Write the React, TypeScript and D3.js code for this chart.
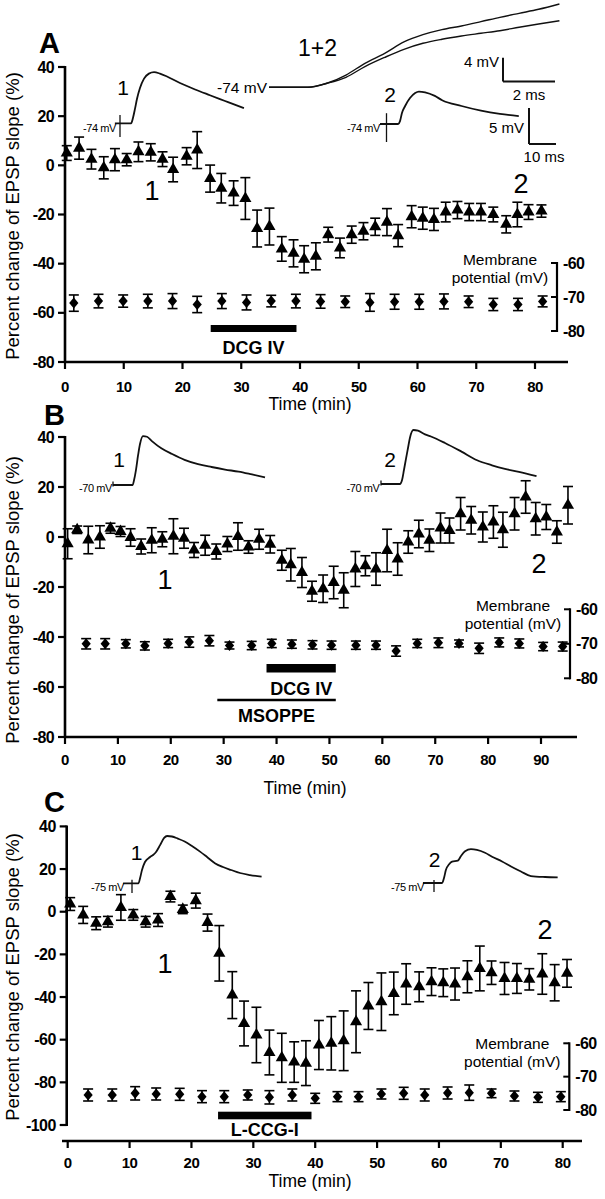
import React from "react";
import * as d3 from "d3";

const FONT = "'Liberation Sans', Arial, Helvetica, sans-serif";

// ---------------- Panel A data ----------------
const triTimeA = [0.3, 2.4, 4.5, 6.6, 8.5, 10.5, 12.5, 14.6, 16.6, 18.4, 20.7, 22.5, 24.7, 26.6, 28.7, 30.7, 32.7, 34.8, 36.9, 38.9, 40.7, 42.7, 44.8, 46.8, 48.8, 50.8, 52.8, 54.8, 56.7, 59.0, 60.9, 62.8, 64.8, 66.8, 68.8, 70.8, 72.9, 75.1, 77.0, 78.9, 81.1];
const triValA = [5, 7, 2.5, -1, 2.3, 2.3, 5.5, 5.3, 2.5, -1.7, 3.7, 6.2, -5.4, -9.3, -11.3, -13.5, -25.7, -24.9, -34, -35.8, -38.2, -37, -28.2, -33.6, -28.2, -26.8, -25, -23.1, -28.6, -20.9, -21.5, -22, -19, -18.2, -19, -19, -20, -24, -20, -19, -18.6];
const triErrA = [3, 4.5, 4, 4.5, 4.5, 2.5, 4, 3.5, 3, 5, 3.5, 7.5, 5.5, 6, 5, 8.5, 7.5, 7.5, 5, 5.5, 5.5, 5.5, 3, 4, 3.5, 3.5, 3.5, 5.5, 4.5, 4.5, 4.5, 4.5, 4, 3.5, 3.5, 3.5, 3, 3.5, 5, 3, 2.5];
const diaTimeA = [1.5, 5.7, 9.9, 14.1, 18.3, 22.5, 26.7, 30.9, 35.1, 39.3, 43.5, 47.7, 51.9, 56.1, 60.3, 64.5, 68.7, 72.9, 77.1, 81.3];
const diaValA = [-71.8, -71.2, -71.2, -71.2, -71.2, -72.2, -71.2, -71.6, -71.2, -71.2, -71.3, -71.4, -71.6, -71.4, -71.4, -71.3, -71.4, -72.2, -72.2, -71.3];
const diaErrA = [2.4, 2.0, 1.8, 2.0, 2.2, 2.4, 2.2, 2.2, 1.7, 2.0, 2.0, 1.7, 2.6, 2.2, 2.2, 2.2, 1.7, 1.8, 1.8, 1.6];

// ---------------- Panel B data ----------------
const triTimeB = [0.5, 2.3, 4.4, 6.6, 8.6, 10.5, 12.4, 14.4, 16.4, 18.4, 20.5, 22.5, 24.4, 26.5, 28.6, 30.7, 32.7, 34.7, 36.7, 38.8, 41, 42.7, 44.8, 46.7, 48.8, 50.8, 52.7, 54.9, 56.8, 58.8, 60.9, 62.9, 64.9, 66.9, 68.9, 71, 72.7, 74.8, 76.8, 79, 81, 82.8, 85, 87.1, 89, 91, 93, 95.1];
const triValB = [-2.7, 2.9, -1.2, 0, 3.5, 2.2, -0.2, -3.8, -1.3, -0.9, 0.3, -0.5, -5.2, -3.3, -5.8, -2.8, 0.2, -4, -0.9, -2.9, -9.3, -11.1, -14.2, -21.7, -20.7, -18.2, -21.3, -12.8, -11.5, -12.8, -5.4, -8.8, -2, 1.2, -1.3, 3.6, 2.6, 9.3, 6.7, 4, 6, 2.9, 9.3, 16, 7.3, 8, 2, 12.7];
const triErrB = [6, 1.5, 5.5, 4.5, 2, 2, 3.5, 3, 5, 3, 7, 4, 3, 4, 3, 3, 5.5, 2.5, 4, 3.5, 4, 6.5, 6, 4, 5.5, 6.5, 7, 7, 4, 6.5, 8.5, 6.5, 4.5, 5.5, 4.5, 6, 5, 6.5, 5.5, 6, 6.5, 7, 6.5, 6.5, 6.5, 5, 4.5, 7.5];
const diaTimeB = [4.0, 7.6, 11.5, 15.1, 19.5, 23.5, 27.3, 31.1, 35.3, 39.1, 42.9, 46.8, 50.4, 55, 58.8, 62.6, 66.6, 70.6, 74.5, 78.3, 82.1, 85.9, 90.4, 94.1];
const diaValB = [-70, -70, -70, -70.6, -69.9, -69.5, -69.1, -70.5, -70.5, -69.9, -70.1, -70.3, -70.4, -70.4, -70.4, -72.1, -69.9, -69.7, -69.9, -71.3, -69.6, -69.9, -70.8, -70.8];
const diaErrB = [1.5, 1.5, 1.2, 1.2, 1.2, 1.5, 1.5, 1.0, 1.2, 1.2, 1.2, 1.2, 1.2, 1.2, 1.2, 1.5, 1.2, 1.4, 1.0, 1.5, 1.3, 1.3, 1.2, 1.3];

// ---------------- Panel C data ----------------
const triTimeC = [0.4, 2.5, 4.6, 6.5, 8.6, 10.6, 12.6, 14.6, 16.6, 18.6, 20.7, 22.6, 24.5, 26.6, 28.5, 30.5, 32.6, 34.6, 36.6, 38.5, 40.6, 42.6, 44.6, 46.6, 48.6, 50.7, 52.7, 54.7, 56.8, 58.8, 60.7, 62.6, 64.6, 66.6, 68.5, 70.6, 72.6, 74.6, 76.7, 78.7, 80.7];
const triValC = [3.6, -1.5, -5.4, -4.7, 2, -1.5, -4.7, -3.9, 7.1, 1.1, 5.2, -5.1, -19.5, -39.1, -52.4, -57.8, -66, -68.5, -70.5, -71, -62.5, -61.7, -60.5, -51.6, -44.2, -42.2, -38.3, -33.9, -35.2, -32.8, -33.3, -33.9, -30.5, -26.6, -28.6, -31.3, -31.3, -31.7, -29.2, -33.3, -28.9];
const triErrC = [3, 4, 3, 2.5, 6, 2.5, 2.5, 3, 2.5, 2, 3.5, 4, 13, 11, 10.5, 13, 10.5, 11.5, 9.5, 10.5, 11.5, 12.5, 14, 14.5, 11, 13.5, 10, 9.5, 7, 6.5, 6.5, 7.5, 7.5, 10.5, 5.5, 7.5, 7, 5, 9.5, 8.5, 6.5];
const diaTimeC = [3.3, 7.2, 10.9, 14.3, 18.1, 21.7, 25.3, 29.1, 32.6, 36.3, 40, 43.6, 47, 50.7, 54.3, 57.7, 61.4, 64.9, 68.5, 72.2, 76, 79.7];
const diaValC = [-75.5, -75.5, -75, -75.2, -75.3, -76, -76, -75.5, -76.2, -75.5, -76.5, -76, -76, -75.2, -75, -75.5, -74.9, -74.8, -75, -75.8, -76.2, -76];
const diaErrC = [1.8, 1.8, 2, 1.8, 1.8, 1.8, 1.8, 1.5, 2, 1.8, 1.5, 1.5, 1.5, 1.5, 1.8, 1.8, 1.8, 2.3, 1.3, 1.5, 1.5, 1.5];

// ---------------- Tick labels ----------------
const xTicksA = [0, 10, 20, 30, 40, 50, 60, 70, 80];
const xTicksB = [0, 10, 20, 30, 40, 50, 60, 70, 80, 90];
const xTicksC = [0, 10, 20, 30, 40, 50, 60, 70, 80];
const yTicksAB = [40, 20, 0, -20, -40, -60, -80];
const yTicksC = [40, 20, 0, -20, -40, -60, -80, -100];
const mpTicks = [-60, -70, -80];

// ---------------- EPSP traces [ms, mV] ----------------
const traceA1 = [[-1.9, 0], [4.1, 0], [4.8, 0.74], [5.6, 2.1], [6.3, 3.4], [7.4, 4.9], [8.9, 6.2], [10.7, 6.9], [12.6, 7.1], [14.8, 6.9], [17.4, 6.5], [22.2, 5.6], [27.8, 4.7], [33.3, 3.9], [38.9, 3.1], [45.9, 2.1]];
const traceA2 = [[-2.4, 0], [4.3, 0], [5, 0.4], [5.7, 1.5], [6.9, 2.5], [8.7, 3.6], [10.6, 4.3], [12, 4.5], [14.3, 4.4], [17.9, 3.9], [20.6, 3.3], [27.8, 2.5], [35, 1.85], [42, 1.4], [49, 1.1]];
const traceA12a = [[0, 0], [1.49, 0], [2.23, 0.68], [2.96, 2.08], [3.69, 4.07], [4.45, 5.76], [5.19, 7.68], [5.92, 8.92], [6.65, 9.78], [7.4, 10.39], [8.15, 11.12], [8.88, 11.86], [9.62, 12.54], [10.37, 13.22], [11.17, 14.12]];
const traceA12b = [[0, 0], [1.49, 0], [2.23, 0.68], [2.96, 1.7], [3.69, 3.51], [4.45, 5.07], [5.19, 6.44], [5.92, 7.46], [6.65, 8.14], [7.4, 8.69], [8.15, 9.15], [8.88, 9.59], [9.62, 10.17], [10.37, 10.73], [11.17, 11.29]];
const traceB1 = [[0, 0], [7.3, 0], [7.8, 0.69], [8.5, 2.08], [9.3, 4.17], [10, 5.7], [11.1, 6.8], [12.6, 6.7], [14.4, 6.1], [17.9, 5.1], [21.9, 4.3], [26.5, 3.5], [31.5, 2.9], [36.5, 2.5], [41.5, 2.15], [46.5, 1.85], [51.5, 1.46], [56.3, 1.07]];
const traceB2 = [[0, 0], [7, 0], [7.8, 0.56], [8.5, 1.94], [9.3, 3.6], [10, 5], [10.7, 6.4], [12, 7.5], [13.7, 7.4], [16.3, 6.9], [18.5, 6.6], [23.7, 5.7], [29.8, 4.5], [35.6, 3.3], [41.1, 2.6], [45.9, 2.1], [51.1, 1.7], [57.6, 1.1]];
const traceC1 = [[-3.3, 0], [2.4, 0], [3, 0.74], [3.7, 1.85], [4.8, 2.96], [6.7, 3.65], [7.8, 3.93], [8.9, 4.35], [10.4, 5.3], [11.9, 6.3], [13, 6.57], [14.8, 6.5], [17, 6.2], [19.5, 5.8], [22.2, 5.18], [25.2, 4.4], [27.8, 3.65], [30.7, 2.8], [33.7, 2.26], [36.7, 1.85], [40, 1.43], [43.7, 1.15], [48, 0.92]];
const traceC2 = [[-4.1, 0], [3, 0], [3.7, 0.69], [4.4, 1.8], [5.6, 2.6], [6.7, 2.96], [8.8, 3.1], [10, 3.75], [11.5, 4.4], [13.7, 4.7], [15.9, 4.6], [18.9, 4.2], [21.5, 3.65], [25.2, 2.99], [28.7, 2.26], [32.2, 1.6], [35.9, 0.97], [41.1, 0.83], [45.8, 0.79]];

// ---------------- Layout configs ----------------
const panels = [
  {
    letter: "A", letterX: 39, letterY: 53,
    xDomain: [0, 80], xRange: [65, 535], yDomain: [-80, 40], yRange: [362, 67],
    yAxisX: 65, xAxisY: 362, xAxisExt: [65, 568], xLabelY: 392, timeY: 410, timeX: 310,
    mpRange: [331, 263], bracketX: 557, memOff: [2, 20],
    xTicks: xTicksA, yTicks: yTicksAB, titleY: 216,
    tri: [triTimeA, triValA, triErrA], dia: [diaTimeA, diaValA, diaErrA],
    bars: [{ from: 24.8, to: 39.4, y: 325, h: 7, label: "DCG IV", labelY: 354 }],
    lines: [],
    big: [{ t: "1", x: 152, y: 200 }, { t: "2", x: 521, y: 193 }],
  },
  {
    letter: "B", letterX: 44, letterY: 425,
    xDomain: [0, 90], xRange: [65, 541], yDomain: [-80, 40], yRange: [737, 437],
    yAxisX: 65, xAxisY: 737, xAxisExt: [64, 577], xLabelY: 765, timeY: 794, timeX: 305,
    mpRange: [678.3, 609.3], bracketX: 570, memOff: [2, 20],
    xTicks: xTicksB, yTicks: yTicksAB, titleY: 600,
    tri: [triTimeB, triValB, triErrB], dia: [diaTimeB, diaValB, diaErrB],
    bars: [{ from: 38.1, to: 51.2, y: 664, h: 8.5, label: "DCG IV", labelY: 695 }],
    lines: [{ from: 28.8, to: 51.2, y: 700, label: "MSOPPE", labelY: 721.5 }],
    big: [{ t: "1", x: 165, y: 589 }, { t: "2", x: 539, y: 573 }],
  },
  {
    letter: "C", letterX: 44, letterY: 812,
    xDomain: [0, 80], xRange: [67.7, 562.7], yDomain: [-100, 40], yRange: [1125, 826.4],
    yAxisX: 66.7, xAxisY: 1141, xAxisExt: [62, 582], xLabelY: 1168, timeY: 1187, timeX: 310,
    mpRange: [1110, 1043.3], bracketX: 569.3, memOff: [6, 24],
    xTicks: xTicksC, yTicks: yTicksC, titleY: 977,
    tri: [triTimeC, triValC, triErrC], dia: [diaTimeC, diaValC, diaErrC],
    bars: [{ from: 24.3, to: 39.4, y: 1111.7, h: 7.6, label: "L-CCG-I", labelY: 1136 }],
    lines: [],
    big: [{ t: "1", x: 165, y: 973 }, { t: "2", x: 545, y: 939 }],
  },
];

// trace insets: origin (artifact time 0, baseline 0 mV) and pixels per ms / per mV
const traces = [
  { pts: traceA1, x0: 120, y0: 123.3, kx: 2.7, ky: 7.2, art: [-1.9, 1.15], num: "1", numX: 123, numY: 95, mv: "-74 mV", mvX: 116, mvY: 131.5 },
  { pts: traceA2, x0: 386.5, y0: 124, kx: 2.7, ky: 7.2, art: [-2.5, 1.5], num: "2", numX: 390, numY: 102, mv: "-74 mV", mvX: 380, mvY: 131.5 },
  { pts: traceB1, x0: 113, y0: 485, kx: 2.7, ky: 7.2, art: [-0.2, 0.5], num: "1", numX: 119, numY: 467, mv: "-70 mV", mvX: 112, mvY: 491.5 },
  { pts: traceB2, x0: 381, y0: 484, kx: 2.7, ky: 7.2, art: [-0.2, 0.5], num: "2", numX: 390, numY: 467, mv: "-70 mV", mvX: 379.5, mvY: 491.5 },
  { pts: traceC1, x0: 132, y0: 883.3, kx: 2.7, ky: 7.2, art: [-1.35, 0.5], num: "1", numX: 136.5, numY: 860, mv: "-75 mV", mvX: 124, mvY: 890.5 },
  { pts: traceC2, x0: 434, y0: 883, kx: 2.7, ky: 7.2, art: [-1.25, 0.4], num: "2", numX: 434.6, numY: 867, mv: "-75 mV", mvX: 424, mvY: 890.5 },
];

const overlay = { a: traceA12a, b: traceA12b, x0: 269, y0: 87.3, kx: 26, ky: 5.9 };

function Trace({ t }: any) {
  const sx = d3.scaleLinear().domain([0, 10]).range([t.x0, t.x0 + 10 * t.kx]);
  const sy = d3.scaleLinear().domain([0, 10]).range([t.y0, t.y0 - 10 * t.ky]);
  const line = d3.line<number[]>().x((d) => sx(d[0])).y((d) => sy(d[1])).curve(d3.curveMonotoneX);
  return (
    <g>
      <path d={line(t.pts) || ""} fill="none" stroke="#111" strokeWidth={1.8} />
      <line x1={sx(0)} x2={sx(0)} y1={sy(t.art[0])} y2={sy(t.art[1])} stroke="#111" strokeWidth={1.3} />
      <text x={t.numX} y={t.numY} fontSize={21} textAnchor="middle" fontFamily={FONT}>{t.num}</text>
      <text x={t.mvX} y={t.mvY} fontSize={11} textAnchor="end" fontFamily={FONT} letterSpacing={-0.4}>{t.mv}</text>
    </g>
  );
}

function Overlay() {
  const o = overlay;
  const sx = d3.scaleLinear().domain([0, 1]).range([o.x0, o.x0 + o.kx]);
  const sy = d3.scaleLinear().domain([0, 1]).range([o.y0, o.y0 - o.ky]);
  const line = d3.line<number[]>().x((d) => sx(d[0])).y((d) => sy(d[1])).curve(d3.curveMonotoneX);
  // scale bars: 4 mV / 2 ms
  const sbX = sx(9.0), sbY = sy(1.0);
  // 5 mV / 10 ms bar for single traces (same mV/ms scale as trace insets)
  const s2x = d3.scaleLinear().domain([0, 10]).range([529, 529 + 27]);
  const s2y = d3.scaleLinear().domain([0, 5]).range([144, 144 - 36]);
  return (
    <g fontFamily={FONT}>
      <path d={line(o.a) || ""} fill="none" stroke="#111" strokeWidth={1.4} />
      <path d={line(o.b) || ""} fill="none" stroke="#111" strokeWidth={1.4} />
      <text x={298} y={56} fontSize={23}>1+2</text>
      <text x={267} y={92.5} fontSize={15.5} textAnchor="end">-74 mV</text>
      <line x1={sbX} x2={sbX} y1={sbY} y2={sbY - 4 * o.ky} stroke="#111" strokeWidth={2} />
      <line x1={sbX} x2={sbX + 2 * o.kx} y1={sbY} y2={sbY} stroke="#111" strokeWidth={2} />
      <text x={sbX - 4} y={67} fontSize={15} textAnchor="end">4 mV</text>
      <text x={sbX + 26} y={100} fontSize={15} textAnchor="middle">2 ms</text>
      <line x1={s2x(0)} x2={s2x(0)} y1={s2y(0)} y2={s2y(5)} stroke="#111" strokeWidth={2} />
      <line x1={s2x(0)} x2={s2x(10)} y1={s2y(0)} y2={s2y(0)} stroke="#111" strokeWidth={2} />
      <text x={s2x(0) - 5} y={133} fontSize={15} textAnchor="end">5 mV</text>
      <text x={544} y={162} fontSize={15} textAnchor="middle">10 ms</text>
    </g>
  );
}

function Panel({ c }: any) {
  const x = d3.scaleLinear().domain(c.xDomain).range(c.xRange);
  const y = d3.scaleLinear().domain(c.yDomain).range(c.yRange);
  const ym = d3.scaleLinear().domain([-80, -60]).range(c.mpRange);
  const triPath = d3.symbol().type(d3.symbolTriangle).size(64)() || "";
  const diaPath = "M0,-5.5L4.6,0L0,5.5L-4.6,0Z";
  const [tt, tv, te] = c.tri;
  const [dt, dv, de] = c.dia;
  const yTop = y(c.yDomain[1]);
  const yBot = y(c.yDomain[0]);
  const cap = 5;
  return (
    <g fontFamily={FONT}>
      <text x={c.letterX} y={c.letterY} fontSize={29} fontWeight="bold">{c.letter}</text>
      {/* y axis */}
      <line x1={c.yAxisX} x2={c.yAxisX} y1={yTop - 1} y2={yBot + 1} stroke="#000" strokeWidth={2.6} />
      {c.yTicks.map((v: number) => (
        <g key={"yt" + v}>
          <line x1={c.yAxisX - 7} x2={c.yAxisX} y1={y(v)} y2={y(v)} stroke="#000" strokeWidth={2.2} />
          <text x={c.yAxisX - 11} y={y(v) + 5.5} fontSize={16} fontWeight="bold" textAnchor="end" letterSpacing={-0.6}>{v}</text>
        </g>
      ))}
      {/* x axis */}
      <line x1={c.xAxisExt[0]} x2={c.xAxisExt[1]} y1={c.xAxisY} y2={c.xAxisY} stroke="#000" strokeWidth={2.6} />
      {c.xTicks.map((v: number) => (
        <g key={"xt" + v}>
          <line x1={x(v)} x2={x(v)} y1={c.xAxisY} y2={c.xAxisY + 7} stroke="#000" strokeWidth={2.2} />
          <text x={x(v)} y={c.xLabelY} fontSize={15} fontWeight="bold" textAnchor="middle" letterSpacing={-0.5}>{v}</text>
        </g>
      ))}
      <text x={c.timeX} y={c.timeY} fontSize={17.5} textAnchor="middle">Time (min)</text>
      <text transform={`translate(19,${c.titleY}) rotate(-90)`} fontSize={18.5} textAnchor="middle">Percent change of EPSP slope (%)</text>
      {/* membrane potential axis */}
      <line x1={c.bracketX} x2={c.bracketX} y1={ym(-60) - 1} y2={ym(-80) + 1} stroke="#000" strokeWidth={2.2} />
      {mpTicks.map((v) => (
        <g key={"mp" + v}>
          <line x1={c.bracketX - 6} x2={c.bracketX} y1={ym(v)} y2={ym(v)} stroke="#000" strokeWidth={2} />
          <text x={c.bracketX + 6} y={ym(v) + 5.5} fontSize={16} fontWeight="bold" letterSpacing={-0.6}>{v}</text>
        </g>
      ))}
      <text x={c.bracketX - 57} y={ym(-60) + c.memOff[0]} fontSize={15.5} textAnchor="middle">Membrane</text>
      <text x={c.bracketX - 57} y={ym(-60) + c.memOff[1]} fontSize={15.5} textAnchor="middle">potential (mV)</text>
      {/* drug bars */}
      {c.bars.map((b: any, i: number) => (
        <g key={"bar" + i}>
          <rect x={x(b.from)} y={b.y} width={x(b.to) - x(b.from)} height={b.h} fill="#000" />
          <text x={(x(b.from) + x(b.to)) / 2} y={b.labelY} fontSize={18} fontWeight="bold" textAnchor="middle">{b.label}</text>
        </g>
      ))}
      {c.lines.map((b: any, i: number) => (
        <g key={"ln" + i}>
          <line x1={x(b.from)} x2={x(b.to)} y1={b.y} y2={b.y} stroke="#000" strokeWidth={2.5} />
          <text x={(x(b.from) + x(b.to)) / 2} y={b.labelY} fontSize={18} fontWeight="bold" textAnchor="middle">{b.label}</text>
        </g>
      ))}
      {/* membrane potential diamonds */}
      {dt.map((t: number, i: number) => (
        <g key={"d" + i} stroke="#000" strokeWidth={1.6}>
          <line x1={x(t)} x2={x(t)} y1={ym(dv[i] - de[i])} y2={ym(dv[i] + de[i])} />
          <line x1={x(t) - cap} x2={x(t) + cap} y1={ym(dv[i] - de[i])} y2={ym(dv[i] - de[i])} />
          <line x1={x(t) - cap} x2={x(t) + cap} y1={ym(dv[i] + de[i])} y2={ym(dv[i] + de[i])} />
          <path d={diaPath} transform={`translate(${x(t)},${ym(dv[i])})`} fill="#000" stroke="none" />
        </g>
      ))}
      {/* EPSP slope triangles */}
      {tt.map((t: number, i: number) => (
        <g key={"t" + i} stroke="#000" strokeWidth={1.6}>
          <line x1={x(t)} x2={x(t)} y1={y(tv[i] - te[i])} y2={y(tv[i] + te[i])} />
          <line x1={x(t) - cap} x2={x(t) + cap} y1={y(tv[i] - te[i])} y2={y(tv[i] - te[i])} />
          <line x1={x(t) - cap} x2={x(t) + cap} y1={y(tv[i] + te[i])} y2={y(tv[i] + te[i])} />
          <path d={triPath} transform={`translate(${x(t)},${y(tv[i])})`} fill="#000" stroke="none" />
        </g>
      ))}
      {c.big.map((b: any, i: number) => (
        <text key={"big" + i} x={b.x} y={b.y} fontSize={27} textAnchor="middle">{b.t}</text>
      ))}
    </g>
  );
}

export default function App() {
  return (
    <svg width={605} height={1199} style={{ position: "absolute", left: 0, top: 0, background: "#fff" }}>
      <rect width={605} height={1199} fill="#fff" />
      {panels.map((c) => (
        <Panel key={c.letter} c={c} />
      ))}
      <Overlay />
      {traces.map((t, i) => (
        <Trace key={i} t={t} />
      ))}
    </svg>
  );
}
